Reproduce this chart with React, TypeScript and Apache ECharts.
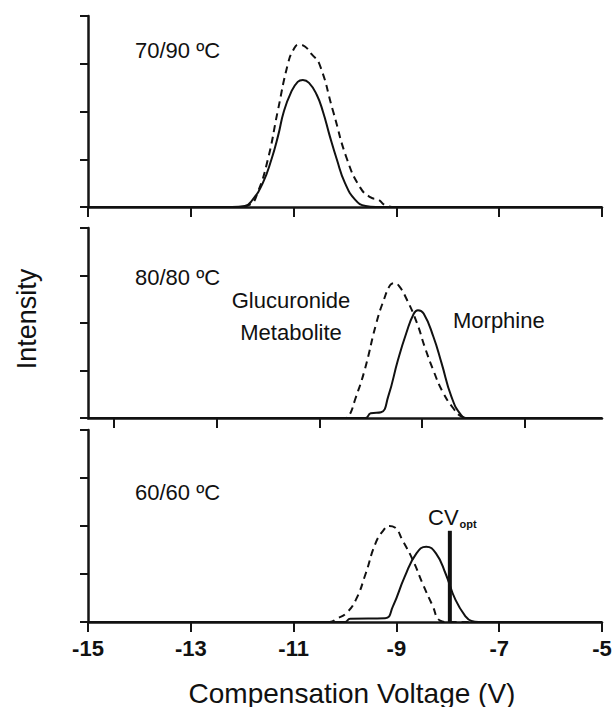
import React, { useEffect, useRef } from "react";
import * as echarts from "echarts";

// X axis ticks (Compensation Voltage, V)
const xTickValues = [-15, -13, -11, -9, -7, -5];
const midTickValues = [-15, -13, -11, -9, -7];

// Panel 1: 70/90 ºC
const p1Solid: number[][] = [
  [-15, 0], [-12.2, 0], [-11.95, 0.02], [-11.8, 0.15], [-11.6, 0.5], [-11.43, 1.0],
  [-11.3, 1.5], [-11.19, 2.0], [-11.05, 2.4], [-10.92, 2.62], [-10.82, 2.66],
  [-10.7, 2.6], [-10.55, 2.35], [-10.43, 2.0], [-10.3, 1.5], [-10.16, 1.0],
  [-10.0, 0.5], [-9.8, 0.15], [-9.6, 0.02], [-9.4, 0], [-5, 0],
];
const p1Dashed: number[][] = [
  [-15, 0], [-12.1, 0], [-11.85, 0.05], [-11.7, 0.3], [-11.5, 1.0], [-11.31, 2.0],
  [-11.11, 3.0], [-11.0, 3.3], [-10.9, 3.4], [-10.78, 3.36], [-10.65, 3.2],
  [-10.5, 3.0], [-10.23, 2.0], [-9.96, 1.0], [-9.7, 0.4], [-9.5, 0.2],
  [-9.35, 0.15], [-9.2, 0.03], [-9.0, 0], [-5, 0],
];

// Panel 2: 80/80 ºC (its axis is offset by half a volt in the figure)
const p2Solid: number[][] = [
  [-15.5, 0], [-10.1, 0], [-10.0, 0.1], [-9.8, 0.12], [-9.66, 0.45], [-9.47, 1.22],
  [-9.31, 1.78], [-9.16, 2.2], [-9.08, 2.27], [-8.97, 2.2], [-8.78, 1.71],
  [-8.62, 1.15], [-8.43, 0.45], [-8.24, 0.06], [-8.1, 0], [-5.5, 0],
];
const p2Dashed: number[][] = [
  [-15.5, 0], [-10.5, 0], [-10.42, 0.05], [-10.3, 0.4], [-10.12, 1.0], [-9.89, 2.0],
  [-9.74, 2.5], [-9.62, 2.8], [-9.54, 2.84], [-9.45, 2.78], [-9.3, 2.5],
  [-9.1, 2.0], [-8.95, 1.5], [-8.78, 1.0], [-8.6, 0.55], [-8.39, 0.2],
  [-8.23, 0.03], [-8.1, 0], [-5.5, 0],
];

// Panel 3: 60/60 ºC
const p3Solid: number[][] = [
  [-15, 0], [-10.0, 0], [-9.9, 0.07], [-9.22, 0.08], [-9.07, 0.32], [-8.84, 0.94],
  [-8.61, 1.43], [-8.42, 1.57], [-8.23, 1.43], [-8.04, 1.0], [-7.85, 0.46],
  [-7.65, 0.11], [-7.54, 0.02], [-7.4, 0], [-5, 0],
];
const p3Dashed: number[][] = [
  [-15, 0], [-10.3, 0], [-10.14, 0.08], [-9.98, 0.18], [-9.79, 0.46], [-9.6, 1.0],
  [-9.41, 1.63], [-9.26, 1.9], [-9.14, 2.0], [-9.03, 1.97], [-8.88, 1.7],
  [-8.68, 1.29], [-8.49, 0.8], [-8.3, 0.35], [-8.15, 0.03], [-8.0, 0], [-5, 0],
];
const cvOpt: number[][] = [[-7.96, 0], [-7.96, 1.9]];

const FONT = "Liberation Sans, Arial, Helvetica, sans-serif";

export default function App() {
  const ref = useRef<HTMLDivElement>(null);
  useEffect(() => {
    if (!ref.current) return;
    const chart = echarts.init(ref.current, undefined, { renderer: "svg" });
    const grids = [
      { left: 88, top: 16, width: 514, height: 191 },
      { left: 88, top: 228, width: 514, height: 190 },
      { left: 88, top: 430, width: 514, height: 192 },
    ];
    const axisLine = { lineStyle: { color: "#151515", width: 2.5 } };
    const xAxes = grids.map((_, i) => {
      const base: any = {
        type: "value",
        gridIndex: i,
        min: i === 1 ? -15.5 : -15,
        max: i === 1 ? -5.5 : -5,
        interval: 2,
        axisLine: { ...axisLine, onZero: false },
        axisTick: { show: true, inside: false, length: 10, lineStyle: { color: "#151515", width: 2 } },
        axisLabel: { show: i === 2, color: "#111", fontSize: 22, fontWeight: "bold", fontFamily: FONT, margin: 15 },
        splitLine: { show: false },
      };
      if (i === 1) {
        base.axisTick.customValues = midTickValues;
        base.axisLabel.show = false;
      } else {
        base.axisTick.customValues = xTickValues;
        base.axisLabel.customValues = xTickValues;
      }
      return base;
    });
    const yAxes = grids.map((_, i) => ({
      type: "value",
      gridIndex: i,
      min: 0,
      max: 4,
      interval: 1,
      axisLine: { show: true, ...axisLine },
      axisTick: { show: true, inside: false, length: 8, lineStyle: { color: "#151515", width: 2 } },
      axisLabel: { show: false },
      splitLine: { show: false },
    }));
    const line = (data: number[][], idx: number, dashed: boolean) => ({
      type: "line",
      xAxisIndex: idx,
      yAxisIndex: idx,
      data,
      showSymbol: false,
      smooth: 0.5,
      lineStyle: { color: "#111", width: 2, type: dashed ? [7, 5] : "solid" },
      z: dashed ? 3 : 4,
    });
    const txt = (text: string, x: number, y: number, size: number, align = "left") => ({
      type: "text",
      x,
      y,
      style: { text, fill: "#111", font: `${size}px ${FONT}`, align, verticalAlign: "middle" },
    });
    chart.setOption({
      animation: false,
      backgroundColor: "#fff",
      grid: grids,
      xAxis: xAxes,
      yAxis: yAxes,
      series: [
        line(p1Dashed, 0, true),
        line(p1Solid, 0, false),
        line(p2Dashed, 1, true),
        line(p2Solid, 1, false),
        line(p3Dashed, 2, true),
        line(p3Solid, 2, false),
        {
          type: "line",
          xAxisIndex: 2,
          yAxisIndex: 2,
          data: cvOpt,
          showSymbol: false,
          lineStyle: { color: "#111", width: 4 },
          z: 5,
        },
      ],
      graphic: [
        txt("70/90 ºC", 135, 50, 22),
        txt("80/80 ºC", 135, 277, 22),
        txt("60/60 ºC", 135, 492, 22),
        txt("Glucuronide", 291, 300, 22, "center"),
        txt("Metabolite", 291, 332, 22, "center"),
        txt("Morphine", 453, 320, 22),
        {
          type: "text",
          x: 428,
          y: 517,
          style: {
            text: "{a|CV}{b|opt}",
            fill: "#111",
            verticalAlign: "middle",
            rich: {
              a: { fontSize: 22, fontFamily: FONT, fill: "#111" },
              b: { fontSize: 11, fontFamily: FONT, fill: "#111", fontWeight: "bold", padding: [14, 0, 0, 1] },
            },
          },
        },
        {
          type: "text",
          x: 27,
          y: 319,
          rotation: Math.PI / 2,
          style: { text: "Intensity", fill: "#111", font: `27px ${FONT}`, align: "center", verticalAlign: "middle" },
        },
        txt("Compensation Voltage (V)", 352, 693, 28, "center"),
      ],
    });
    return () => chart.dispose();
  }, []);
  return (
    <div
      ref={ref}
      style={{ position: "fixed", left: 0, top: 0, width: 616, height: 707, background: "#fff" }}
    />
  );
}
